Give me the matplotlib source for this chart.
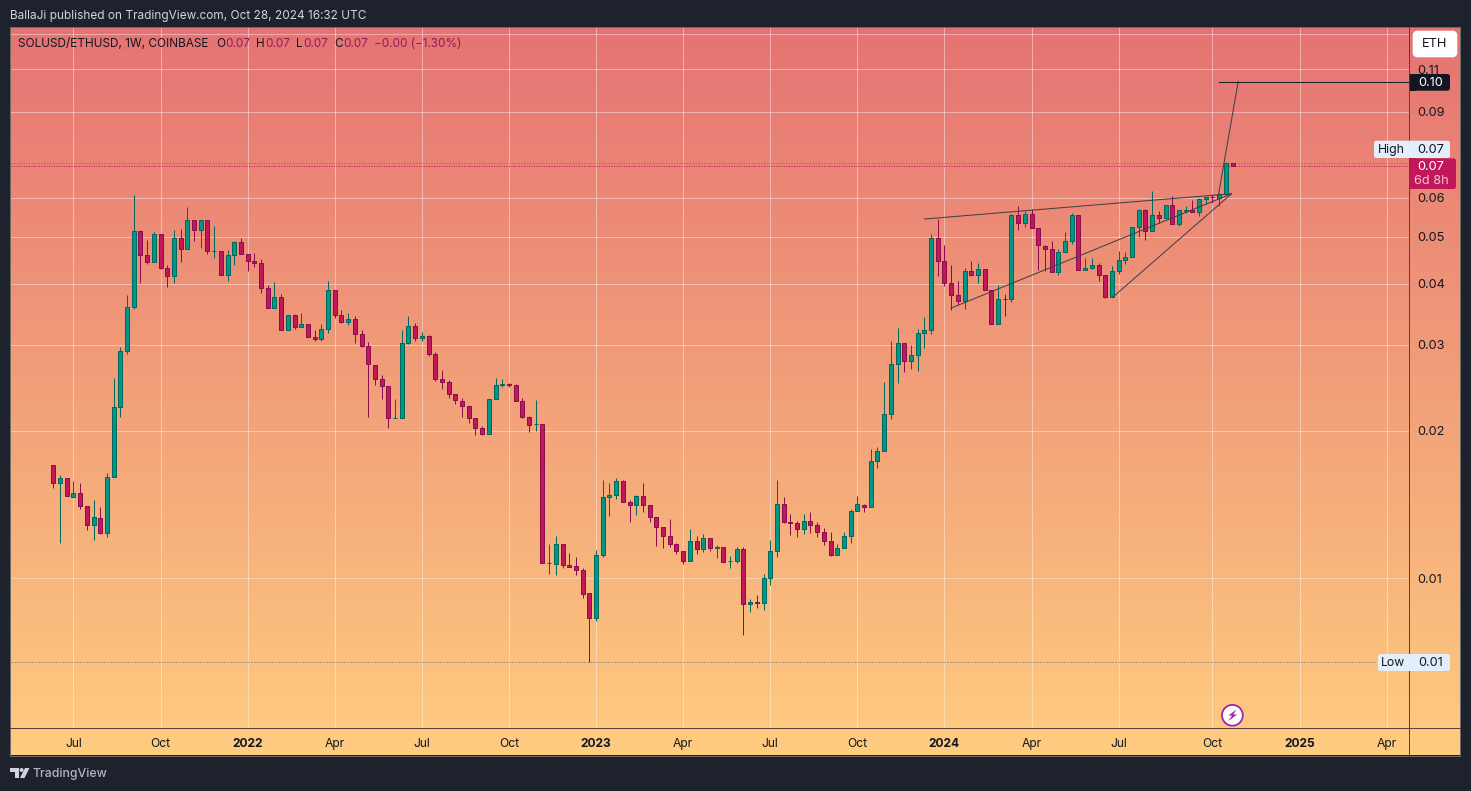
import numpy as np
import pandas as pd
import matplotlib
matplotlib.use("Agg")
import matplotlib.pyplot as plt
import matplotlib.dates as mdates
from matplotlib.patches import Rectangle, FancyBboxPatch, Circle, Polygon
from matplotlib.ticker import NullLocator

plt.rcParams['font.family'] = ['Inter', 'DejaVu Sans']

start_date = '2021-06-14'
opens = [
 .01702,.01563,.01601,.01463,.01491,.01402,.01282,.01325,.01238,.01608,
 .02237,.02914,.03586,.05133,.04584,.04435,.05061,.04311,.04151,.04967,
 .04715,.05407,.05158,.05407,.04671,.04671,.04171,.04584,.04874,.04605,
 .04456,.04414,.03923,.03570,.03760,.03218,.03454,.03263,.03310,.03113,
 .03084,.03233,.03886,.03454,.03341,.03389,.03157,.02983,.02728,.02553,
 .02470,.02124,.02124,.03026,.03279,.03098,.03128,.02873,.02553,.02518,
 .02379,.02302,.02248,.02124,.02026,.01970,.02324,.02482,.02494,.02482,
 .02302,.02134,.02065,.02065,.01072,.01067,.01172,.01062,.01057,.01037,
 .00931,.00827,.01113,.01463,.01477,.01578,.01429,.01409,.01470,.01409,
 .01332,.01270,.01217,.01172,.01134,.01082,.01189,.01145,.01206,.01150,
 .01156,.01082,.01082,.01145,.00883,.00893,.00888,.00999,.01134,.01416,
 .01301,.01294,.01258,.01307,.01282,.01241,.01189,.01116,.01150,.01217,
 .01369,.01409,.01396,.01734,.01818,.02165,.02741,.03026,.02780,.02860,
 .03172,.03218,.04967,.04456,.04016,.03795,.03700,.04250,.04171,.04291,
 .03886,.03310,.03724,.03724,.05536,.05331,.05562,.05206,.04782,.04715,
 .04230,.04649,.04897,.05536,.04270,.04311,.04372,.04171,.03760,.04250,
 .04477,.04541,.05231,.05668,.05133,.05536,.05458,.05807,.05305,.05655,
 .05668,.05614,.05970,.06040,.05998,.06112,.07060]
highs = [
 .01702,.01626,.01601,.01580,.01563,.01402,.01443,.01396,.01639,.02566,
 .02970,.03795,.06093,.05158,.04920,.05109,.05061,.04372,.05158,.05182,
 .05749,.05407,.05407,.05407,.05256,.04671,.04693,.04897,.04967,.04605,
 .04627,.04498,.03979,.04035,.03813,.03454,.03470,.03486,.03310,.03218,
 .03310,.04054,.03886,.03536,.03486,.03437,.03218,.03040,.02728,.02602,
 .02470,.02324,.03218,.03437,.03326,.03187,.03143,.02900,.02664,.02542,
 .02379,.02335,.02248,.02124,.02045,.02324,.02566,.02553,.02506,.02494,
 .02335,.02144,.02313,.02065,.01174,.01217,.01172,.01124,.01103,.01047,
 .00931,.01140,.01585,.01563,.01601,.01585,.01443,.01477,.01563,.01409,
 .01332,.01270,.01319,.01178,.01134,.01258,.01217,.01233,.01206,.01167,
 .01156,.01108,.01156,.01156,.00906,.00921,.01017,.01195,.01585,.01463,
 .01351,.01311,.01351,.01364,.01301,.01264,.01241,.01172,.01241,.01382,
 .01470,.01416,.01835,.01853,.02518,.03055,.03248,.03026,.02998,.03233,
 .03421,.05061,.05433,.04805,.04372,.04054,.04311,.04456,.04414,.04291,
 .03886,.03979,.03813,.05562,.05776,.05641,.05695,.05206,.04805,.04897,
 .04715,.05109,.05588,.05536,.04519,.04519,.04414,.04171,.04352,.04671,
 .04649,.05231,.05695,.05695,.06199,.05641,.05807,.06055,.05668,.05776,
 .05942,.05998,.06027,.06112,.06141,.07075,.07060]
lows = [
 .01531,.01181,.01470,.01463,.01387,.01256,.01198,.01232,.01215,.01608,
 .02140,.02881,.03563,.04009,.04385,.04435,.04283,.03941,.04027,.04426,
 .04715,.04888,.04729,.04597,.04511,.04171,.04047,.04364,.04605,.04262,
 .04328,.03842,.03570,.03570,.03218,.03218,.03233,.03263,.03113,.03055,
 .03055,.03172,.03405,.03326,.03294,.03026,.02970,.02134,.02489,.02330,
 .02032,.02124,.02124,.03012,.03055,.03055,.02846,.02529,.02436,.02335,
 .02269,.02134,.02075,.01961,.01961,.01970,.02324,.02459,.02459,.02302,
 .02124,.01994,.02003,.01072,.01019,.01016,.01050,.01055,.01016,.00911,
 .00672,.00818,.01106,.01342,.01454,.01429,.01304,.01348,.01367,.01304,
 .01165,.01154,.01159,.01122,.01069,.01082,.01122,.01132,.01138,.01100,
 .01077,.01050,.01075,.00765,.00853,.00867,.00861,.00969,.01106,.01294,
 .01227,.01215,.01232,.01238,.01215,.01170,.01111,.01116,.01150,.01181,
 .01369,.01367,.01396,.01683,.01818,.02120,.02513,.02647,.02684,.02659,
 .02964,.03160,.04144,.03971,.03536,.03620,.03563,.04144,.04027,.03886,
 .03310,.03310,.03437,.03672,.05158,.05231,.05206,.04277,.04250,.04230,
 .04171,.04649,.04830,.04270,.04270,.04291,.04054,.03742,.03760,.04190,
 .04393,.04541,.04990,.04920,.05133,.05331,.05458,.05305,.05256,.05588,
 .05614,.05510,.05832,.05859,.05776,.06112,.06984]
closes = [
 .01563,.01601,.01470,.01491,.01402,.01282,.01332,.01238,.01608,.02237,
 .02914,.03586,.05133,.04584,.04435,.05061,.04311,.04151,.04967,.04715,
 .05407,.05158,.05407,.04671,.04675,.04171,.04584,.04874,.04605,.04456,
 .04414,.03923,.03570,.03760,.03218,.03454,.03263,.03310,.03113,.03084,
 .03233,.03886,.03454,.03341,.03389,.03157,.02983,.02741,.02553,.02470,
 .02124,.02127,.03026,.03279,.03098,.03128,.02873,.02553,.02518,.02379,
 .02313,.02248,.02124,.02026,.01970,.02324,.02482,.02494,.02482,.02302,
 .02134,.02055,.02068,.01072,.01075,.01172,.01062,.01055,.01037,.00929,
 .00827,.01113,.01463,.01477,.01578,.01429,.01409,.01470,.01409,.01332,
 .01270,.01217,.01172,.01134,.01082,.01189,.01145,.01206,.01150,.01156,
 .01077,.01085,.01145,.00883,.00893,.00891,.00999,.01134,.01416,.01301,
 .01294,.01258,.01307,.01282,.01241,.01189,.01116,.01150,.01217,.01369,
 .01416,.01396,.01734,.01818,.02165,.02741,.03026,.02780,.02860,.03172,
 .03218,.04967,.04456,.04016,.03795,.03700,.04250,.04171,.04291,.03886,
 .03310,.03724,.03721,.05536,.05331,.05562,.05206,.04805,.04715,.04230,
 .04649,.04897,.05536,.04270,.04311,.04372,.04171,.03760,.04250,.04477,
 .04541,.05231,.05668,.05133,.05536,.05458,.05807,.05305,.05668,.05660,
 .05614,.05970,.06027,.06027,.06112,.07075,.06984]

# price axis labels / grid levels
price_ticks = [0.01, 0.02, 0.03, 0.04, 0.05, 0.06, 0.09, 0.11]
price_labels = ['0.01', '0.02', '0.03', '0.04', '0.05', '0.06', '0.09', '0.11']
extra_grid = [0.13]

# time axis
time_ticks = ['2021-07-05', '2021-10-04', '2022-01-03', '2022-04-04', '2022-07-04', '2022-10-03',
              '2023-01-02', '2023-04-03', '2023-07-03', '2023-10-02', '2024-01-01', '2024-04-01',
              '2024-07-01', '2024-10-07', '2025-01-06', '2025-04-07']
time_labels = ['Jul', 'Oct', '2022', 'Apr', 'Jul', 'Oct', '2023', 'Apr', 'Jul', 'Oct', '2024', 'Apr',
               'Jul', 'Oct', '2025', 'Apr']

# drawn trend lines: (date, price) pairs
trend_dates = [('2023-12-11', '2024-10-27'), ('2024-01-08', '2024-10-27'),
               ('2024-06-25', '2024-10-27'), ('2024-10-13', '2024-11-03')]
trend_prices = [(.05433, .06121), (.03570, .06121), (.03760, .06121), (.06035, .10399)]
target_date = '2024-10-14'
target_price = .1035

W, H = 1471, 791
BG = '#1e222d'
fig = plt.figure(figsize=(W / 100, H / 100), dpi=100, facecolor=BG)

def box(l, t, r, b):
    return [l / W, 1 - b / H, (r - l) / W, (b - t) / H]

# gradient panel
bg = fig.add_axes(box(10.5, 27, 1460.5, 755.5), zorder=0)
top = np.array([0xE5, 0x73, 0x73]) / 255
bot = np.array([0xFF, 0xCC, 0x80]) / 255
t = np.linspace(0, 1, 729)[:, None, None]
bg.imshow(top * (1 - t) + bot * t, aspect='auto', interpolation='bilinear')
bg.set_axis_off()

# main chart
ax = fig.add_axes(box(11, 28, 1409, 728), zorder=1)
ax.patch.set_alpha(0)
dates = pd.date_range(start_date, periods=len(opens), freq='7D')
xs = mdates.date2num(dates)
o, hi, lo, c = map(np.array, (opens, highs, lows, closes))
up = c >= o
PX = 6.7 / 7  # pixels per day
ax.set_yscale('log')
ax.set_ylim(0.004931, 0.1337)
ax.set_xlim(xs[0] - 42.3 / PX, xs[0] + 1355.7 / PX)

grid_c = (1, 1, 1, 0.42)
tick_x = mdates.date2num(pd.to_datetime(time_ticks))
for v in price_ticks + extra_grid:
    ax.axhline(v, color=grid_c, lw=0.72, zorder=1)
for v in tick_x:
    ax.axvline(v, color=grid_c, lw=0.72, zorder=1)

# high / low / last lines
ax.axhline(max(highs), color='#5d6d85', lw=0.72, ls=(0, (1, 2)), zorder=2)
ax.plot([xs[0] - 42.3 / PX, xs[0] + 1323 / PX], [min(lows)] * 2, color='#5d6d85', lw=0.72, ls=(0, (1, 2)), zorder=2)
ax.axhline(closes[-1], color='#C2185B', lw=0.72, ls=(0, (1, 1.5)), zorder=2)

GREEN, GREEN_D = '#009688', '#00695C'
RED, RED_D = '#C2185B', '#880E4F'
wick_cols = [GREEN_D if u else RED_D for u in up]
ax.vlines(xs, lo, hi, colors=wick_cols, lw=0.72, zorder=3)
for x, a, b, u in zip(xs, o, c, up):
    ax.bar(x, abs(b - a), bottom=min(a, b), width=4.0 / PX,
           color=GREEN if u else RED, edgecolor=GREEN_D if u else RED_D, lw=0.72, zorder=4)

for (d0, d1), (p0, p1) in zip(trend_dates, trend_prices):
    ax.plot(pd.to_datetime([d0, d1]), [p0, p1], color='#454048', lw=0.75, zorder=5)
ax.plot([pd.Timestamp(target_date), pd.Timestamp('2025-07-01')], [target_price] * 2, color='#1e222d', lw=0.75, zorder=5)

ax.yaxis.tick_right()
ax.yaxis.set_major_locator(plt.FixedLocator(price_ticks))
ax.yaxis.set_major_formatter(plt.FixedFormatter(price_labels))
ax.yaxis.set_minor_locator(NullLocator())
ax.tick_params(axis='y', length=0, pad=6.2, labelsize=9.2, labelcolor='#131722')
ax.set_xticks(tick_x)
ax.set_xticklabels(time_labels)
ax.tick_params(axis='x', length=0, pad=7, labelsize=8.7, labelcolor='#131722')
for lab in ax.get_xticklabels():
    if lab.get_text().isdigit():
        lab.set_fontweight('bold')
for s in ax.spines.values():
    s.set_visible(False)

# overlay in pixel coordinates
ov = fig.add_axes([0, 0, 1, 1], zorder=2)
ov.set_xlim(0, W)
ov.set_ylim(H, 0)
ov.set_axis_off()
ov.patch.set_alpha(0)

ov.add_patch(Rectangle((10.5, 27), 1450, 728.5, fill=False, ec='#6f6a66', lw=0.72))
ov.plot([1409.4, 1409.4], [27, 755.5], color='#5a4038', lw=0.72)
ov.plot([10.5, 1460.5], [728.4, 728.4], color='#5a4038', lw=0.72)

def label_box(l, t, r, b, col, rad=2.5):
    ov.add_patch(FancyBboxPatch((l + rad, t + rad), r - l - 2 * rad, b - t - 2 * rad,
                                boxstyle=f'round,pad={rad},rounding_size={rad}', fc=col, ec='none', zorder=6))

def txt(x, y, s, col='#131722', size=9.2, ha='left', **kw):
    ov.text(x, y + 1, s, color=col, fontsize=size, ha=ha, va='center', zorder=7, **kw)

# header
txt(10, 14.5, 'BallaJi published on TradingView.com, Oct 28, 2024 16:32 UTC', col='#d1d4dc', size=8.5)
# legend
txt(18, 43, 'SOLUSD/ETHUSD, 1W, COINBASE', size=8.5)
VAL = '#8f1d5a'
for x, s, col in [(216, 'O', '#131722'), (225.5, '0.07', VAL), (256, 'H', '#131722'), (265.5, '0.07', VAL),
                  (296, 'L', '#131722'), (303.5, '0.07', VAL), (334, 'C', '#131722'), (343.5, '0.07', VAL),
                  (374, '\u22120.00 (\u22121.30%)', VAL)]:
    txt(x, 43, s, col=col, size=8.45)

# ETH
label_box(1412.7, 30.7, 1457.3, 57.3, 'white', rad=5)
txt(1434.5, 43, 'ETH', ha='center', size=9.2)

# target price
label_box(1409.7, 74, 1450, 90.7, '#131722')
ov.add_patch(Rectangle((1409.7, 74), 6, 16.7, fc='#131722', ec='none', zorder=6))
txt(1431, 82, '0.10', col='white', ha='center')

# High
HL = '#e3eefb'
label_box(1374, 140.7, 1450, 158, HL)
txt(1391.5, 148.5, 'High', ha='center', size=8.8)
txt(1431, 149, '0.07', ha='center')

# last price
label_box(1409.7, 158.3, 1456, 189, '#C2185B')
ov.add_patch(Rectangle((1409.7, 158.3), 6, 30.7, fc='#C2185B', ec='none', zorder=6))
txt(1431, 166, '0.07', col='white', ha='center')
txt(1431, 180, '6d 8h', col='#f3c2d6', ha='center')

# Low
label_box(1378, 654, 1450, 671, HL)
txt(1393.5, 662, 'Low', ha='center', size=8.8)
txt(1431, 662, '0.01', ha='center')

# lightning badge
ov.add_patch(Circle((1232.4, 715.3), 10.4, fc='white', ec='#9c27b0', lw=1.3, zorder=6))
ov.add_patch(Polygon([(1236.5, 709.5), (1228.5, 715.5), (1232, 715.6), (1228.5, 721), (1237, 714.6), (1233.4, 714.4)],
                     closed=True, fc='#9c27b0', ec='none', zorder=7))

# TradingView logo
LOGO = '#d1d4dc'
ov.add_patch(Polygon([(10, 768), (19, 768), (19, 778), (15, 778), (15, 772), (10, 772)], closed=True, fc=LOGO, ec='none'))
ov.add_patch(Circle((21.6, 770), 2, fc=LOGO, ec='none'))
ov.add_patch(Polygon([(25, 768), (29.5, 768), (24.5, 778), (20, 778)], closed=True, fc=LOGO, ec='none'))
txt(33, 773.5, 'TradingView', col='#b2b5be', size=8.85, fontweight='medium')

fig.savefig('out.png', dpi=100, facecolor=BG)
